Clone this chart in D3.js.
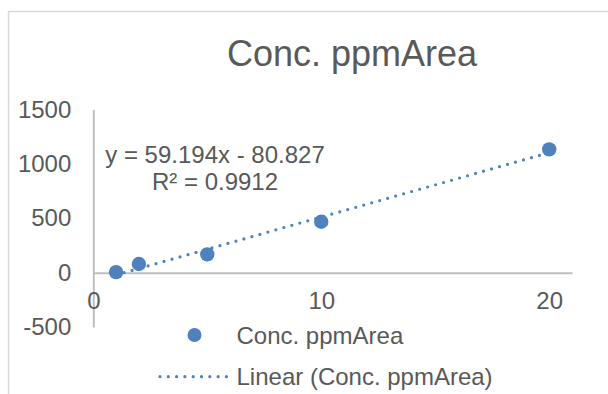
<!DOCTYPE html>
<html>
<head>
<meta charset="utf-8">
<script src="https://cdn.jsdelivr.net/npm/d3@7"></script>
<style>
  html, body { margin: 0; padding: 0; background: #fff; }
  svg { display: block; }
  text { font-family: "Liberation Sans", Arial, sans-serif; fill: #595959; }
</style>
</head>
<body>
<svg id="chart" width="608" height="394"></svg>
<script>
// Calibration data: concentration (ppm) vs. peak area
const concPpm = [1, 2, 5, 10, 20];
const area = [5, 79, 168, 468, 1133];

// Linear trendline coefficients as reported in the equation label
const trendSlope = [59.194];
const trendIntercept = [-80.827];
const trendR2 = [0.9912];

const xTicks = [0, 10, 20];
const yTicks = [-500, 0, 500, 1000, 1500];

const titleText = "Conc. ppmArea";
const seriesName = "Conc. ppmArea";
const trendName = "Linear (Conc. ppmArea)";

const blue = "#4f81bd";
const axisGray = "#bfbfbf";

const svg = d3.select("#chart");

// chart area border (continues past the visible frame)
svg.append("rect")
  .attr("x", 8.5).attr("y", 11.5)
  .attr("width", 800).attr("height", 600)
  .attr("fill", "#fff")
  .attr("stroke", "#d9d9d9").attr("stroke-width", 1.5);

svg.append("text")
  .attr("x", 352).attr("y", 66)
  .attr("text-anchor", "middle")
  .style("font-size", "36px")
  .text(titleText);

const x = d3.scaleLinear().domain([0, 21]).range([93.3, 572]);
const y = d3.scaleLinear().domain([-500, 1500]).range([327, 109.5]);

// plain hyphen-minus for negative labels
const fmt = d => String(d);

// y axis: line at x = 0, labels on the left
const yAxis = d3.axisLeft(y).tickValues(yTicks).tickSize(0).tickPadding(22)
  .tickFormat(fmt);
const gy = svg.append("g").attr("transform", `translate(${x(0)},0)`).call(yAxis);
gy.select(".domain").attr("stroke", axisGray).attr("stroke-width", 2);
gy.selectAll("text").style("font-size", "24px").attr("fill", "#595959")
  .attr("font-family", null);

// x axis: line at y = 0, labels below it
const xAxis = d3.axisBottom(x).tickValues(xTicks).tickSize(0).tickPadding(19)
  .tickFormat(fmt);
const gx = svg.append("g").attr("transform", `translate(0,${y(0)})`).call(xAxis);
gx.select(".domain").attr("stroke", axisGray).attr("stroke-width", 2);
gx.selectAll("text").style("font-size", "24px").attr("fill", "#595959")
  .attr("font-family", null);

// linear trendline across the data range
const xMin = d3.min(concPpm), xMax = d3.max(concPpm);
const trend = [xMin, xMax].map(v => [v, trendSlope[0] * v + trendIntercept[0]]);
svg.append("path")
  .attr("d", d3.line().x(d => x(d[0])).y(d => y(d[1]))(trend))
  .attr("fill", "none")
  .attr("stroke", blue)
  .attr("stroke-width", 3.2)
  .attr("stroke-linecap", "round")
  .attr("stroke-dasharray", "0 8.3");

// data points
svg.append("g").selectAll("circle")
  .data(concPpm.map((c, i) => [c, area[i]]))
  .join("circle")
  .attr("cx", d => x(d[0]))
  .attr("cy", d => y(d[1]))
  .attr("r", 7.2)
  .attr("fill", blue);

// trendline equation and R²
const eq = svg.append("g").style("font-size", "24px");
eq.append("text").attr("x", 215).attr("y", 163).attr("text-anchor", "middle")
  .text(`y = ${trendSlope[0]}x - ${Math.abs(trendIntercept[0])}`);
eq.append("text").attr("x", 215).attr("y", 190).attr("text-anchor", "middle")
  .text(`R² = ${trendR2[0]}`);

// legend
const lg = svg.append("g");
lg.append("circle").attr("cx", 194.5).attr("cy", 335).attr("r", 7).attr("fill", blue);
lg.append("text").attr("x", 236.5).attr("y", 343.5).style("font-size", "24px").text(seriesName);
lg.append("line")
  .attr("x1", 160).attr("x2", 229.5).attr("y1", 376.7).attr("y2", 376.7)
  .attr("stroke", blue).attr("stroke-width", 3.2)
  .attr("stroke-linecap", "round").attr("stroke-dasharray", "0 8.3");
lg.append("text").attr("x", 236.5).attr("y", 385).style("font-size", "24px").text(trendName);
</script>
</body>
</html>
